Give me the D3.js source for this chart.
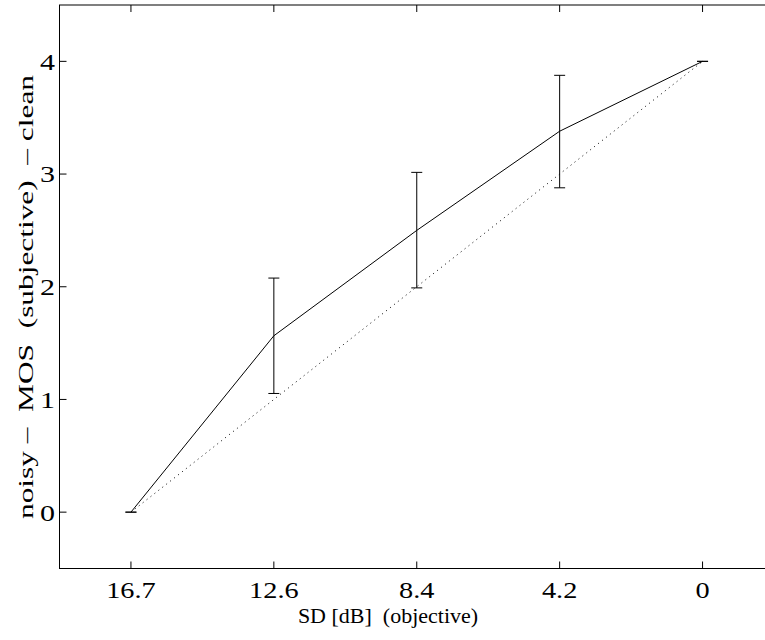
<!DOCTYPE html>
<html><head><meta charset="utf-8">
<script src="https://cdn.jsdelivr.net/npm/d3@7"></script>
<style>body{margin:0;background:#fff}svg{display:block}</style>
</head><body>
<script>
const categories = ["16.7", "12.6", "8.4", "4.2", "0"];
const meanMOS = [0, 1.565, 2.50, 3.38, 4.0];
const errLow = [0, 1.053, 1.99, 2.878, 4.0];
const errHigh = [0, 2.077, 3.015, 3.876, 4.0];
const identity = [0, 1, 2, 3, 4];
const yTicks = [0, 1, 2, 3, 4];

const FONT = "'Liberation Serif', 'Times New Roman', serif";
const W = 765, H = 640;
const svg = d3.select("body").append("svg").attr("width", W).attr("height", H);
const L = 59.5, R = 774, T = 5, B = 568.5;
const x = d3.scalePoint().domain(categories).range([L, R]).padding(0.5);
const y = d3.scaleLinear().domain([-0.5, 4.5]).range([B, T]);

svg.append("rect").attr("x", L).attr("y", T).attr("width", R - L).attr("height", B - T)
  .attr("fill", "none").attr("stroke", "#000").attr("stroke-width", 1);

function stretch(sel, k) {
  sel.each(function () {
    const len = this.getComputedTextLength();
    d3.select(this).attr("textLength", len * k).attr("lengthAdjust", "spacingAndGlyphs");
  });
  return sel;
}

const tl = 7;
categories.forEach(c => {
  svg.append("line").attr("x1", x(c)).attr("x2", x(c)).attr("y1", B).attr("y2", B - tl).attr("stroke", "#000");
  svg.append("line").attr("x1", x(c)).attr("x2", x(c)).attr("y1", T).attr("y2", T + tl).attr("stroke", "#000");
  stretch(svg.append("text").attr("x", x(c)).attr("y", 598).attr("text-anchor", "middle")
    .attr("font-family", FONT).attr("font-size", 24).text(c), 1.18);
});
yTicks.forEach(v => {
  svg.append("line").attr("x1", L).attr("x2", L + tl).attr("y1", y(v)).attr("y2", y(v)).attr("stroke", "#000");
  svg.append("line").attr("x1", R).attr("x2", R - tl).attr("y1", y(v)).attr("y2", y(v)).attr("stroke", "#000");
  stretch(svg.append("text").attr("x", 55).attr("y", y(v)).attr("dy", "0.35em").attr("text-anchor", "end")
    .attr("font-family", FONT).attr("font-size", 24).text(v), 1.25);
});

svg.append("path").datum(categories.map((c, i) => [x(c), y(identity[i])]))
  .attr("d", d3.line()).attr("fill", "none").attr("stroke", "#000")
  .attr("stroke-width", 1).attr("stroke-dasharray", "1,4");

svg.append("path").datum(categories.map((c, i) => [x(c), y(meanMOS[i])]))
  .attr("d", d3.line()).attr("fill", "none").attr("stroke", "#000").attr("stroke-width", 1);

const cw = 5.5;
categories.forEach((c, i) => {
  const g = svg.append("g").attr("stroke", "#000").attr("stroke-width", 1);
  g.append("line").attr("x1", x(c)).attr("x2", x(c)).attr("y1", y(errLow[i])).attr("y2", y(errHigh[i]));
  g.append("line").attr("x1", x(c) - cw).attr("x2", x(c) + cw).attr("y1", y(errLow[i])).attr("y2", y(errLow[i]));
  g.append("line").attr("x1", x(c) - cw).attr("x2", x(c) + cw).attr("y1", y(errHigh[i])).attr("y2", y(errHigh[i]));
});

svg.append("text").attr("x", 388).attr("y", 623).attr("text-anchor", "middle")
  .attr("font-family", FONT).attr("font-size", 22).style("white-space", "pre")
  .text("SD [dB]  (objective)");
svg.append("text").attr("transform", "translate(33,297) rotate(-90)").attr("text-anchor", "middle")
  .attr("font-family", FONT).attr("font-size", 21.5).style("white-space", "pre")
  .attr("textLength", 444).attr("lengthAdjust", "spacingAndGlyphs")
  .text("noisy –  MOS  (subjective)  – clean");
</script>
</body></html>
